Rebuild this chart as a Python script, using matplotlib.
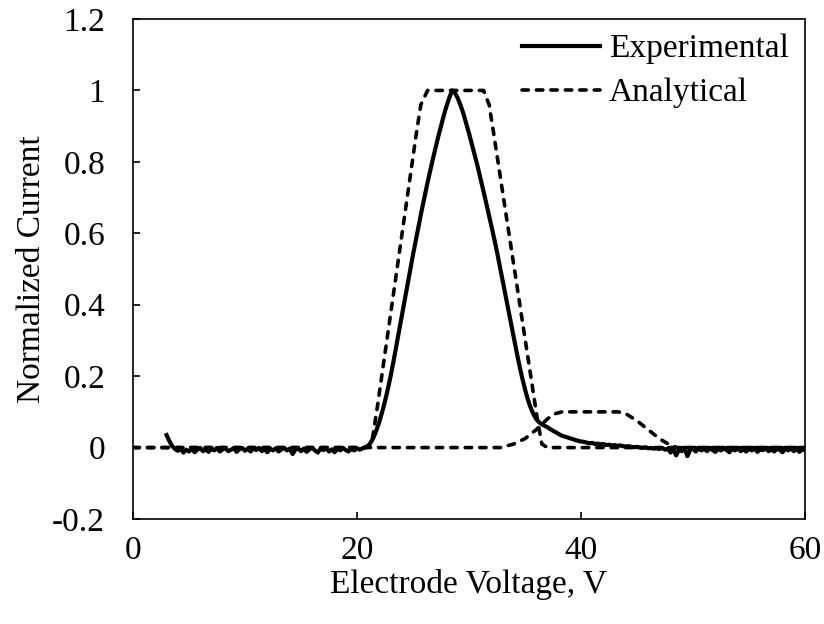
import numpy as np
import matplotlib.pyplot as plt

plt.rcParams['font.family'] = ['Liberation Serif', 'DejaVu Serif']

# Experimental: voltage sweep 3 V .. 60 V, 0.25 V step
exp_v = np.arange(3.0, 60.001, 0.25)
exp_i = [
    0.035, 0.018, 0.004, -0.004, -0.009, -0.003, -0.014, -0.006,
    -0.011, -0.003, -0.013, -0.006, -0.001, -0.010, -0.005, -0.012,
    -0.003, -0.008, -0.001, -0.011, -0.005, -0.002, -0.010, -0.006,
    -0.002, -0.012, -0.005, -0.001, -0.009, -0.003, -0.011, -0.002,
    -0.007, -0.001, -0.010, -0.005, -0.013, -0.003, -0.008, -0.002,
    -0.011, -0.005, -0.001, -0.008, -0.003, -0.018, -0.006, -0.002,
    -0.010, -0.003, -0.012, -0.005, -0.001, -0.008, -0.014, -0.003,
    -0.007, -0.002, -0.011, -0.005, -0.013, -0.003, -0.008, -0.001,
    -0.007, -0.011, -0.003, -0.008, -0.002, -0.006, -0.002, 0.001,
    0.005, 0.015, 0.030, 0.050, 0.073, 0.100, 0.130, 0.163,
    0.200, 0.240, 0.283, 0.326, 0.369, 0.412, 0.455, 0.498,
    0.540, 0.580, 0.620, 0.660, 0.698, 0.735, 0.770, 0.805,
    0.838, 0.870, 0.900, 0.930, 0.957, 0.980, 1.000, 0.993,
    0.978, 0.958, 0.935, 0.908, 0.880, 0.850, 0.820, 0.790,
    0.757, 0.724, 0.690, 0.655, 0.620, 0.585, 0.548, 0.508,
    0.468, 0.428, 0.388, 0.348, 0.308, 0.268, 0.230, 0.195,
    0.163, 0.135, 0.112, 0.094, 0.080, 0.071, 0.065, 0.061,
    0.057, 0.052, 0.047, 0.043, 0.038, 0.034, 0.031, 0.029,
    0.026, 0.024, 0.021, 0.019, 0.017, 0.016, 0.014, 0.012,
    0.013, 0.010, 0.011, 0.009, 0.010, 0.007, 0.008, 0.006,
    0.007, 0.005, 0.006, 0.004, 0.003, 0.004, 0.002, 0.001,
    0.002, 0.000, -0.001, 0.001, -0.002, -0.001, -0.003, -0.002,
    -0.004, -0.001, -0.006, -0.003, -0.014, -0.004, -0.022, -0.005,
    -0.010, -0.002, -0.024, -0.006, -0.003, -0.011, -0.002, -0.008,
    -0.003, -0.010, -0.002, -0.007, -0.012, -0.003, -0.008, -0.002,
    -0.007, -0.013, -0.003, -0.008, -0.002, -0.010, -0.005, -0.011,
    -0.003, -0.008, -0.002, -0.012, -0.005, -0.007, -0.002, -0.010,
    -0.005, -0.011, -0.003, -0.007, -0.013, -0.003, -0.008, -0.002,
    -0.010, -0.003, -0.012, -0.005, -0.008,
]

# Analytical, main peak (trapezoid with rounded corners)
ana1_v = [0, 20.8, 21.3, 21.8, 25.3, 25.7, 26.3, 31.3, 31.8, 32.2, 36.1, 36.5, 37.0, 60]
ana1_i = [0, 0, 0.01, 0.11, 0.88, 0.96, 1.0, 1.0, 0.96, 0.88, 0.08, 0.01, 0, 0]

# Analytical, second small peak
ana2_v = [0, 32.8, 34.0, 35.0, 36.0, 37.0, 37.6, 38.3, 43.3, 44.0, 45.0, 46.0, 47.0, 48.0, 48.6, 60]
ana2_i = [0, 0, 0.01, 0.025, 0.05, 0.08, 0.094, 0.1, 0.1, 0.095, 0.075, 0.05, 0.025, 0.006, 0, 0]

fig = plt.figure(figsize=(8.24, 6.24), dpi=100)
ax = fig.add_axes([133 / 824, 1 - 519 / 624, 672 / 824, 500 / 624])

ax.plot(exp_v, exp_i, color='black', lw=3.0, label='Experimental')
dash = dict(color='black', lw=2.6, dashes=(1.77, 2.23), dash_capstyle='round')
ax.plot(ana1_v, ana1_i, label='Analytical', **dash)
ax.plot(ana2_v, ana2_i, **dash)

ax.set_xlim(0, 60)
ax.set_ylim(-0.2, 1.2)
ax.set_xticks([0, 20, 40, 60])
ax.set_yticks([-0.2, 0, 0.2, 0.4, 0.6, 0.8, 1.0, 1.2])
ax.set_yticklabels(['-0.2', '0', '0.2', '0.4', '0.6', '0.8', '1', '1.2'])
ax.tick_params(axis='both', direction='in', length=5, width=1.2, labelsize=24)
ax.tick_params(axis='y', pad=20)
ax.tick_params(axis='x', pad=12)
for s in ax.spines.values():
    s.set_linewidth(1.2)

ax.set_xlabel('Electrode Voltage, V', fontsize=24, labelpad=2)
ax.set_ylabel('Normalized Current', fontsize=24, labelpad=4)

ax.legend(loc='upper left', bbox_to_anchor=(0.579, 0.97), frameon=False, fontsize=24,
          handlelength=2.35, handletextpad=0.25, labelspacing=0.4, borderpad=0, borderaxespad=0)

fig.savefig('out.png', dpi=100)
